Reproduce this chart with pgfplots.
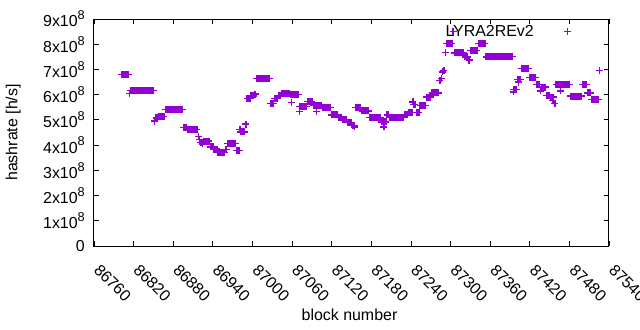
\documentclass[border=0pt]{standalone}
\usepackage{fontspec}
\setmainfont{Liberation Sans}
\usepackage{pgfplots}
\pgfplotsset{compat=1.18}
\definecolor{gpviolet}{HTML}{9400D3}
\newcommand{\gpsup}[1]{\raisebox{0.45em}{\fontsize{12.8}{13}\selectfont #1}}
\begin{document}
\begin{tikzpicture}[font=\fontsize{16}{19}\selectfont]
\begin{axis}[
  scale only axis, width=515bp, height=227bp,
  xmin=86760, xmax=87540, ymin=0, ymax=9,
  scaled x ticks=false, scaled y ticks=false,
  xtick={86760,86820,86880,86940,87000,87060,87120,87180,87240,87300,87360,87420,87480,87540},
  xticklabels={86760,86820,86880,86940,87000,87060,87120,87180,87240,87300,87360,87420,87480,87540},
  ytick={0,1,2,3,4,5,6,7,8,9},
  yticklabels={0,1x10\gpsup{8},2x10\gpsup{8},3x10\gpsup{8},4x10\gpsup{8},5x10\gpsup{8},6x10\gpsup{8},7x10\gpsup{8},8x10\gpsup{8},9x10\gpsup{8}},
  xticklabel style={xshift=7bp, rotate=-45, anchor=north west, inner sep=0pt},
  xticklabel shift=17bp,
  yticklabel style={inner sep=0pt},
  yticklabel shift=9bp,
  tick align=inside, major tick length=5bp,
  every tick/.style={black, line width=0.8bp},
  axis line style={line width=1bp},
  xlabel={block number}, ylabel={hashrate [h/s]},
  xlabel style={yshift=-3bp, xshift=-2bp},
  ylabel style={yshift=19bp},
  legend plot pos=right,
  legend style={draw=none, fill=none, at={(axis description cs:1,1)}, anchor=north east, xshift=-35bp, yshift=-2bp, font=\fontsize{16}{19}\selectfont},
  legend image code/.code={\draw[#1, only marks] plot coordinates {(0bp,0bp)};},
]
\addplot[only marks, mark=+, mark size=3.5bp, gpviolet, mark options={line width=1.4bp}] coordinates {
(86802,6.79)(86804,6.79)(86806,6.79)(86808,6.79)(86810,6.79)(86812,6.79)
(86814,6.05)
(86816,6.17)(86818,6.17)(86820,6.17)(86822,6.17)(86824,6.17)(86826,6.17)(86828,6.17)(86830,6.17)(86832,6.17)
(86834,6.17)(86836,6.17)(86838,6.17)(86840,6.17)(86842,6.17)(86844,6.17)(86846,6.17)(86848,6.17)(86850,6.17)
(86852,4.95)(86854,5.08)(86856,5.08)
(86858,5.14)(86860,5.14)(86862,5.14)(86864,5.14)(86866,5.14)
(86868,5.41)(86870,5.41)(86872,5.41)(86874,5.41)(86876,5.41)(86878,5.41)(86880,5.41)(86882,5.41)(86884,5.41)
(86886,5.41)(86888,5.41)(86890,5.41)(86892,5.41)(86894,5.41)
(86896,4.70)(86898,4.70)(86900,4.70)
(86902,4.62)(86904,4.62)(86906,4.62)(86908,4.62)(86910,4.62)(86912,4.62)(86914,4.62)(86916,4.62)
(86918,4.35)(86920,4.22)(86922,4.10)(86924,4.05)
(86926,4.16)(86928,4.16)(86930,4.16)(86932,4.16)(86934,4.16)
(86936,3.93)(86938,3.93)(86940,3.93)
(86942,3.84)(86944,3.84)(86946,3.84)
(86948,3.71)(86950,3.71)(86952,3.71)(86954,3.71)(86956,3.71)(86958,3.71)
(86960,3.82)
(86962,4.06)(86964,4.06)(86966,4.06)(86968,4.06)(86970,4.06)(86972,4.06)(86974,4.06)
(86976,3.79)(86978,3.79)(86980,3.79)
(86981,4.63)(86982,4.52)(86984,4.52)(86986,4.52)(86988,4.52)
(86990,4.83)
(86992,5.85)(86994,5.85)(86996,5.85)
(86998,5.95)(87000,5.95)(87002,5.95)
(87004,6.02)
(87006,6.64)(87008,6.64)(87010,6.64)(87012,6.64)(87014,6.64)(87016,6.64)(87018,6.64)(87020,6.64)(87022,6.64)(87024,6.64)(87026,6.64)
(87028,5.65)(87030,5.65)(87032,5.65)
(87034,5.85)(87036,5.85)(87038,5.85)
(87040,5.95)(87042,5.95)
(87044,6.05)(87046,6.05)(87048,6.05)(87050,6.05)(87052,6.05)(87054,6.05)(87056,6.05)
(87058,6.00)(87059,5.69)(87060,6.00)(87062,6.00)(87064,6.00)(87066,6.00)(87068,6.00)(87070,6.00)
(87071,5.33)
(87072,5.52)(87074,5.52)(87076,5.52)(87078,5.52)(87080,5.52)(87082,5.52)
(87084,5.72)(87086,5.72)(87088,5.72)(87090,5.72)
(87092,5.58)(87094,5.58)(87096,5.58)(87097,5.33)(87098,5.58)(87100,5.58)(87102,5.58)(87104,5.58)
(87106,5.49)(87108,5.49)(87110,5.49)(87112,5.49)(87114,5.49)(87116,5.49)(87118,5.49)
(87120,5.20)(87122,5.20)(87124,5.20)(87126,5.20)(87128,5.20)
(87130,5.10)(87132,5.10)(87134,5.10)
(87136,5.00)(87138,5.00)(87140,5.00)(87142,5.00)
(87144,4.90)(87146,4.90)(87148,4.90)(87150,4.90)
(87152,4.78)(87154,4.78)(87155,4.72)
(87156,5.49)(87158,5.49)(87160,5.49)(87162,5.49)(87164,5.49)
(87166,5.36)(87168,5.36)(87170,5.36)(87172,5.36)(87174,5.36)(87176,5.36)
(87178,5.09)(87180,5.09)(87182,5.09)(87184,5.09)(87186,5.09)(87188,5.09)(87190,5.09)(87192,5.09)(87194,5.09)
(87196,4.92)(87198,4.92)(87199,4.72)(87200,4.92)(87202,4.92)
(87204,5.20)(87206,5.20)
(87208,5.09)(87210,5.09)(87212,5.09)(87214,5.09)(87216,5.09)(87218,5.09)(87220,5.09)(87222,5.09)(87224,5.09)(87226,5.09)(87228,5.09)
(87230,5.22)(87232,5.22)(87234,5.22)
(87236,5.30)(87238,5.30)(87240,5.30)(87242,5.30)
(87243,5.71)(87244,5.60)(87246,5.60)
(87248,5.30)(87250,5.30)(87252,5.30)
(87254,5.58)(87256,5.58)(87258,5.58)(87260,5.58)(87262,5.58)
(87264,5.90)(87266,5.90)(87268,5.90)(87270,5.90)
(87272,6.07)(87274,6.07)(87276,6.07)(87278,6.07)(87280,6.07)(87282,6.07)
(87284,6.55)(87286,6.65)(87288,6.90)(87290,6.95)
(87292,7.68)
(87294,8.03)(87296,8.03)(87298,8.03)(87300,8.03)(87302,8.03)
(87304,8.50)
(87306,7.66)(87308,7.66)(87310,7.66)(87312,7.66)(87314,7.66)(87316,7.66)(87318,7.66)(87320,7.66)
(87322,7.50)(87324,7.50)(87326,7.50)(87328,7.37)
(87330,7.74)(87332,7.74)(87334,7.74)(87336,7.74)(87338,7.74)(87340,7.74)
(87342,8.03)(87344,8.03)(87346,8.03)(87348,8.03)(87350,8.03)(87352,8.03)
(87354,7.50)(87356,7.50)(87358,7.50)(87360,7.50)
(87362,7.52)(87364,7.52)(87366,7.52)(87368,7.52)(87370,7.52)(87372,7.52)(87374,7.52)(87376,7.52)(87378,7.52)
(87380,7.52)(87382,7.52)(87384,7.52)(87386,7.52)(87388,7.52)(87390,7.52)(87392,7.52)(87394,7.52)
(87395,6.11)(87396,6.20)(87398,6.20)(87400,6.20)
(87402,6.60)(87403,6.50)(87404,6.60)(87406,6.60)
(87408,7.04)(87410,7.04)(87412,7.04)(87414,7.04)(87416,7.04)(87418,7.04)
(87420,6.68)(87422,6.68)(87424,6.68)(87426,6.68)(87428,6.68)
(87430,6.41)(87432,6.41)(87434,6.41)
(87436,6.15)(87438,6.30)(87440,6.30)(87442,6.30)(87444,6.30)
(87446,5.97)(87448,5.97)(87450,5.97)
(87452,5.90)(87454,5.90)(87455,5.78)(87456,5.90)(87458,5.65)
(87460,6.41)(87462,6.41)(87464,6.41)(87466,6.41)(87467,6.15)(87468,6.41)(87470,6.41)(87472,6.41)(87474,6.41)(87476,6.41)(87478,6.41)(87480,6.41)
(87482,5.94)(87484,5.94)(87486,5.94)(87488,5.94)(87490,5.94)(87492,5.94)(87494,5.94)(87496,5.94)(87498,5.94)
(87500,6.40)(87502,6.40)(87504,6.40)(87506,6.40)
(87508,6.07)(87510,6.07)(87512,6.07)
(87514,5.81)(87516,5.81)(87518,5.81)(87520,5.81)(87522,5.81)(87524,5.81)
(87526,6.95)
};
\addlegendentry{LYRA2REv2\rule{28bp}{0pt}}
\end{axis}
\pgfresetboundingbox
\useasboundingbox (-94bp,-84bp) rectangle (546bp,246bp);
\end{tikzpicture}
\end{document}
